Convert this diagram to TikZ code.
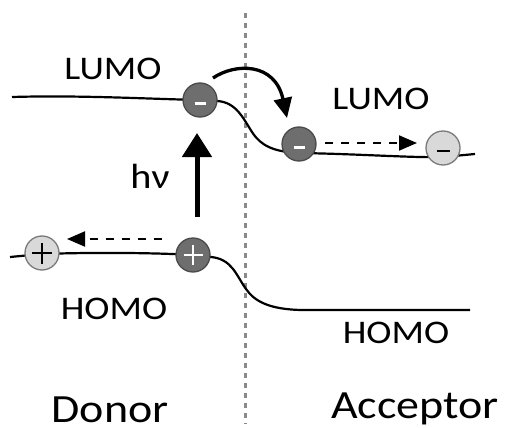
\documentclass[tikz,border=0pt]{standalone}
\usepackage{fontspec}
\setmainfont{Carlito}[FakeStretch=1.15]
\usetikzlibrary{arrows.meta}
\definecolor{chargedark}{HTML}{6E6E6E}
\definecolor{chargedarkrim}{HTML}{4A4A4A}
\definecolor{chargelight}{HTML}{D9D9D9}
\definecolor{chargelightrim}{HTML}{7A7A7A}
\definecolor{interface}{HTML}{8A8A8A}
\tikzset{
  level/.style={line width=2.2pt, black},
  label/.style={inner sep=0pt, anchor=base, text=black},
  chargebase/.style={circle, minimum size=34pt, inner sep=0pt, line width=1.3pt},
  electronsolid/.style={chargebase, fill=chargedark, draw=chargedarkrim,
    path picture={\draw[white, line width=3pt]
      ([xshift=-5.5pt,yshift=-3.5pt]path picture bounding box.center) -- ++(11pt,0);}},
  holesolid/.style={chargebase, fill=chargedark, draw=chargedarkrim,
    path picture={\draw[white, line width=2.6pt]
      ([xshift=-9.5pt]path picture bounding box.center) -- ++(19pt,0)
      ([yshift=-10pt]path picture bounding box.center) -- ++(0,20pt);}},
  electronpale/.style={chargebase, fill=chargelight, draw=chargelightrim,
    path picture={\draw[black, line width=2.6pt]
      ([xshift=-6.5pt,yshift=-3pt]path picture bounding box.center) -- ++(13pt,0);}},
  holepale/.style={chargebase, fill=chargelight, draw=chargelightrim,
    path picture={\draw[black, line width=2.6pt]
      ([xshift=-10pt]path picture bounding box.center) -- ++(20pt,0)
      ([yshift=-10.5pt]path picture bounding box.center) -- ++(0,21pt);}},
  hop/.style={line width=2pt, dash pattern=on 8pt off 8pt,
    -{Triangle[length=18pt,width=15pt]}},
}
\begin{document}
\begin{tikzpicture}[x=1pt, y=-1pt]
\useasboundingbox (0,0) rectangle (506,428);

% interface between donor and acceptor
\draw[interface, line width=2.4pt, dash pattern=on 5pt off 5pt] (245.5,13) -- (245.5,424);

% LUMO levels
\draw[level] (12,97) .. controls (80,95) and (150,99) .. (200,100)
  -- (217,101) .. controls (236,102) and (243,118) .. (252,132)
  .. controls (261,146) and (274,152) .. (300,153)
  .. controls (360,154) and (415,158) .. (443,157) -- (475,154);

% HOMO levels
\draw[level] (10,257) -- (42,254) .. controls (100,252) and (160,253) .. (193,255)
  -- (211,257) .. controls (232,259) and (236,275) .. (246,289)
  .. controls (255,302) and (270,309) .. (300,310) -- (470,310);

% charges
\node[electronsolid] (eD) at (200,100) {};
\node[electronsolid] (eA) at (299,144) {};
\node[electronpale]  (eF) at (443,148) {};
\node[holesolid]     (hD) at (193,255) {};
\node[holepale]      (hF) at (42,253) {};

% photo-excitation
\coordinate (exBase) at (197,217);
\coordinate (exTip)  at (197,133);
\draw[line width=5pt, -{Triangle[length=24pt,width=29pt]}] (exBase) -- (exTip);
\node[label, font=\fontsize{35}{35}\selectfont] (hv) at (150,188) {hν};

% electron transfer
\coordinate (ctStart) at (213,78);
\coordinate (ctEnd)   at (287,118);
\draw[line width=3.3pt, -{Triangle[length=20pt,width=18pt]}]
  (ctStart) .. controls (235,63) and (275,62) .. (ctEnd);

% charge separation
\coordinate (eHopA) at (325,143);
\coordinate (eHopB) at (417,143);
\draw[hop] (eHopA) -- (eHopB);
\coordinate (hHopA) at (162,239);
\coordinate (hHopB) at (67,239);
\draw[hop] (hHopA) -- (hHopB);

% level labels
\node[label, font=\fontsize{33}{33}\selectfont] (lumoD) at (113,79)  {LUMO};
\node[label, font=\fontsize{33}{33}\selectfont] (lumoA) at (381,110) {LUMO};
\node[label, font=\fontsize{33}{33}\selectfont] (homoD) at (114,319) {HOMO};
\node[label, font=\fontsize{33}{33}\selectfont] (homoA) at (396,343) {HOMO};

% material labels
\node[label, font=\fontsize{40}{40}\selectfont] (donor)    at (110,422) {Donor};
\node[label, font=\fontsize{40}{40}\selectfont] (acceptor) at (415,418) {Acceptor};
\end{tikzpicture}
\end{document}
